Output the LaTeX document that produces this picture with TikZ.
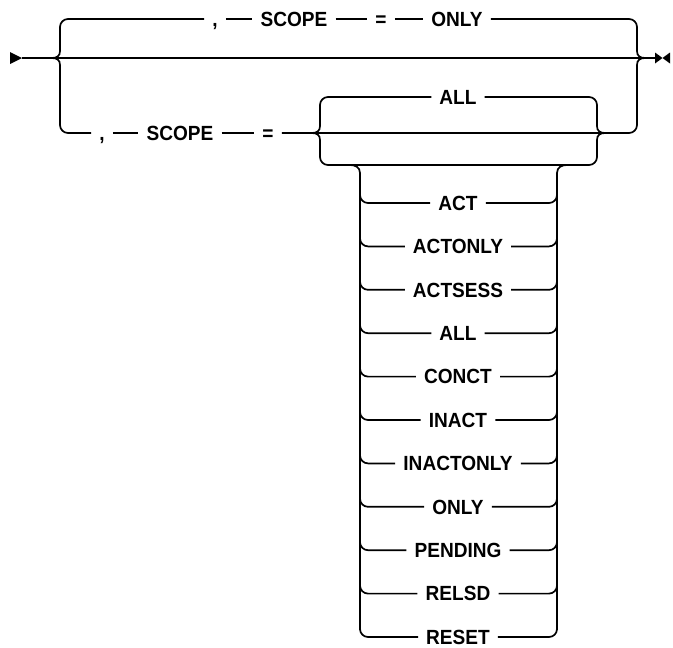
\documentclass[tikz,border=0pt]{standalone}
\usepackage{fontspec}
\newfontfamily\rrfont{Liberation Sans}[FakeStretch=0.93]
\begin{document}
\begin{tikzpicture}[x=1pt,y=-1pt,
  rail/.style={line width=1.7pt,rounded corners=8pt},
  curl/.style={line width=1.7pt},
  kw/.style={font=\rrfont\bfseries\fontsize{20.5}{20.5}\selectfont,inner xsep=8pt,inner ysep=0pt,
    text height=14.7pt,text depth=0pt,anchor=center},
  tip/.style={fill=black,draw=none}]
\useasboundingbox (0,0) rectangle (673,648);
% terminals
\coordinate (start) at (22,58);
\coordinate (fin) at (655,58);
\fill[tip] (10,52) -- (10,64) -- (start) -- cycle;
\fill[tip] (655,52.5) -- (655,63.5) -- (662.5,58) -- cycle;
\fill[tip] (670,52.5) -- (670,63.5) -- (662.5,58) -- cycle;
\draw[curl] (start) -- (fin);
% top branch
\node[kw] (c1) at (215,19) {,};
\node[kw] (s1) at (294,19) {SCOPE};
\node[kw] (e1) at (381,19) {=};
\node[kw] (o1) at (457,19) {ONLY};
% bottom branch
\node[kw] (c2) at (102,133) {,};
\node[kw] (s2) at (180,133) {SCOPE};
\node[kw] (e2) at (268,133) {=};
\node[kw] (all) at (458,97) {ALL};
% left brace
\draw[curl] (52,58) .. controls (57,58) and (60,56) .. (60,51);
\draw[curl] (52,58) .. controls (57,58) and (60,60) .. (60,65);
\draw[rail] (60,51) -- (60,19) -- (c1.west);
\draw[rail] (60,65) -- (60,133) -- (c2.west);
\draw[curl] (c1.east) -- (s1.west);
\draw[curl] (s1.east) -- (e1.west);
\draw[curl] (e1.east) -- (o1.west);
\draw[curl] (c2.east) -- (s2.west);
\draw[curl] (s2.east) -- (e2.west);
% right brace
\draw[rail] (o1.east) -- (637,19) -- (637,51);
\draw[curl] (637,51) .. controls (637,56) and (640,58) .. (645,58);
\draw[curl] (637,65) .. controls (637,60) and (640,58) .. (645,58);
% inner choice
\coordinate (mid) at (637,133);
\draw[rail] (e2.east) -- (mid) -- (637,65);
\draw[curl] (312,133) .. controls (317,133) and (320,131) .. (320,126);
\draw[curl] (312,133) .. controls (317,133) and (320,135) .. (320,140);
\draw[rail] (320,126) -- (320,97) -- (all.west);
\draw[rail] (all.east) -- (597,97) -- (597,126);
\draw[curl] (597,126) .. controls (597,131) and (600,133) .. (605,133);
\draw[rail] (320,140) -- (320,165) -- (597,165) -- (597,140);
\draw[curl] (597,140) .. controls (597,135) and (600,133) .. (605,133);
% list
\draw[curl] (350,165) .. controls (355,165) and (360,167) .. (360,173);
\draw[curl] (557,173) .. controls (557,167) and (562,165) .. (567,165);
\foreach \t [count=\i from 0] in {ACT,ACTONLY,ACTSESS,ALL,CONCT,INACT,INACTONLY,ONLY,PENDING,RELSD,RESET}{
  \node[kw] (r\i) at (458,{203+43.4*\i}) {\t};
  \draw[rail] (360,{203+43.4*\i-14}) -- (360,{203+43.4*\i}) -- (r\i.west);
  \draw[rail] (r\i.east) -- (557,{203+43.4*\i}) -- (557,{203+43.4*\i-14});
}
\draw[curl] (360,173) -- (360,630);
\draw[curl] (557,173) -- (557,630);
\end{tikzpicture}
\end{document}
